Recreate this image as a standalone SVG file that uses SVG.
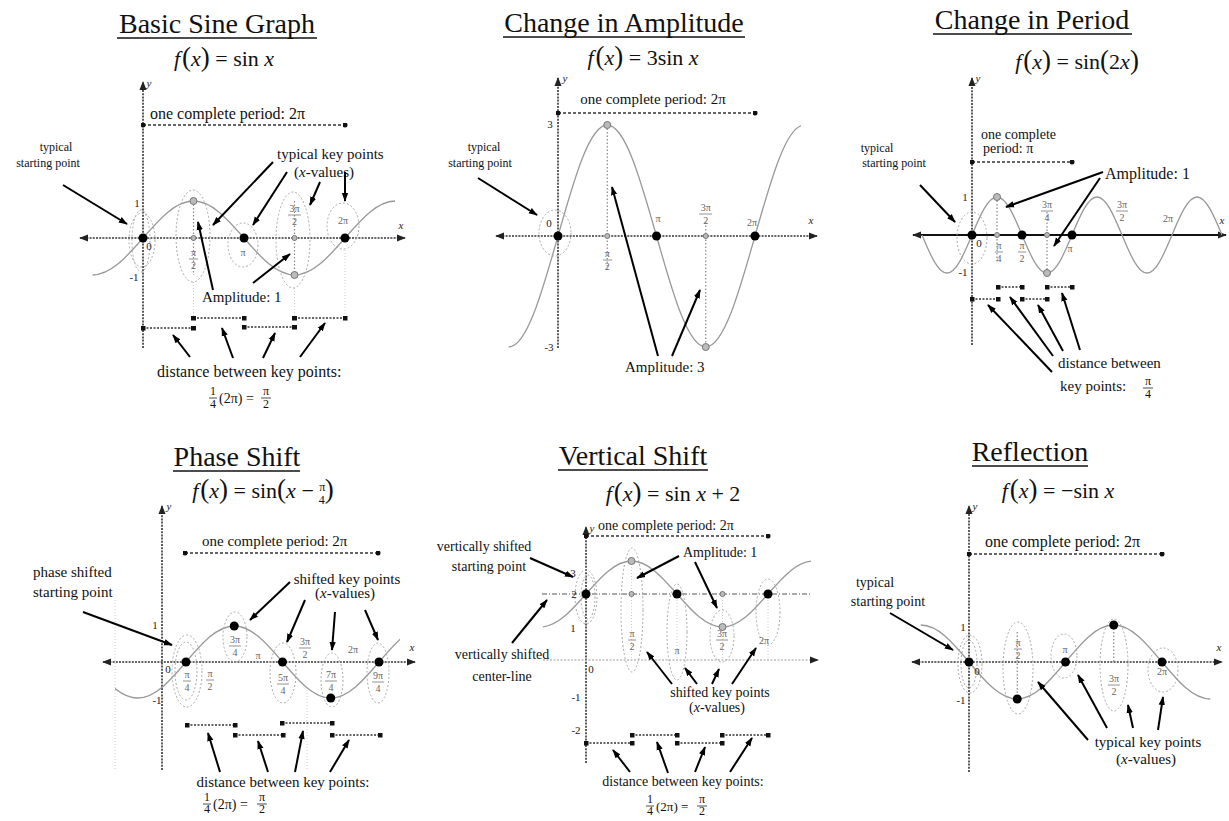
<svg xmlns="http://www.w3.org/2000/svg" width="1229" height="821" viewBox="0 0 1229 821">
<style>
text{font-family:"Liberation Serif","Times New Roman",serif;fill:#111}
.ttl{font-size:28px;text-anchor:middle}
.fm{font-size:22px;text-anchor:middle}
.l16{font-size:16px}.l15{font-size:15px}.l14{font-size:14px}.l13{font-size:13px}.l12{font-size:12px}
.c{text-anchor:middle}
.i{font-style:italic}
.bp{font-size:27px}
.k{font-size:10px;fill:#666;text-anchor:middle}
.n{font-size:11px;text-anchor:middle;fill:#222}
.ul{stroke:#111;stroke-width:1.5}
.ax{stroke:#333;stroke-width:1.6;stroke-dasharray:2 1.2;fill:none}
.axl{stroke:#999;stroke-width:1.2;stroke-dasharray:2 1.5;fill:none}
.axs{stroke:#111;stroke-width:2;fill:none}
.cl{stroke:#555;stroke-width:1.2;stroke-dasharray:5 2 1 2;fill:none}
.cv{stroke:#999;stroke-width:1.3;fill:none}
.el{stroke:#aaa;stroke-width:1;stroke-dasharray:2 2;fill:none}
.ar{stroke:#000;stroke-width:2;fill:none;marker-end:url(#ah)}
.pd{stroke:#333;stroke-width:1.5;stroke-dasharray:3 2;fill:none;marker-start:url(#dt);marker-end:url(#dt)}
.ds{stroke:#333;stroke-width:1.4;stroke-dasharray:2 1.5;fill:none;marker-start:url(#sq);marker-end:url(#sq)}
.vd{stroke:#888;stroke-width:1.2;stroke-dasharray:1.5 2}
.fv{stroke:#ccc;stroke-width:1;stroke-dasharray:1 2}
.fl{stroke:#777;stroke-width:0.8}
.flb{stroke:#222;stroke-width:0.8}
.kd{fill:#000}
.gd{fill:#bbb;stroke:#777;stroke-width:1}
</style>
<defs>
<marker id="ah" viewBox="0 0 10 10" refX="9" refY="5" markerWidth="9" markerHeight="9" markerUnits="userSpaceOnUse" orient="auto"><path d="M0,1.5L10,5L0,8.5z" fill="#000"/></marker>
<marker id="ax" viewBox="0 0 10 10" refX="9" refY="5" markerWidth="9" markerHeight="9" markerUnits="userSpaceOnUse" orient="auto-start-reverse"><path d="M0,1L10,5L0,9z" fill="#222"/></marker>
<marker id="sq" viewBox="0 0 6 6" refX="3" refY="3" markerWidth="5" markerHeight="5" markerUnits="userSpaceOnUse"><rect width="6" height="6" fill="#111"/></marker>
<marker id="dt" viewBox="0 0 6 6" refX="3" refY="3" markerWidth="5" markerHeight="5" markerUnits="userSpaceOnUse"><circle cx="3" cy="3" r="3" fill="#111"/></marker>
<clipPath id="c1"><rect x="90" y="150" width="305" height="150"/></clipPath>
<clipPath id="c2"><rect x="508" y="100" width="293" height="260"/></clipPath>
<clipPath id="c3"><rect x="920" y="180" width="302" height="110"/></clipPath>
<clipPath id="c4"><rect x="115" y="600" width="285" height="110"/></clipPath>
<clipPath id="c5"><rect x="543" y="540" width="268" height="100"/></clipPath>
<clipPath id="c6"><rect x="918" y="600" width="294" height="110"/></clipPath>
</defs>
<rect width="1229" height="821" fill="#fff"/>

<!-- Panel 1: Basic Sine Graph -->
<g id="p1">
<text class="ttl" x="217" y="33">Basic Sine Graph</text>
<line class="ul" x1="117" y1="38" x2="317" y2="38"/>
<text class="fm" x="224" y="66"><tspan class="i">f</tspan><tspan class="bp" dx="2">(</tspan><tspan class="i">x</tspan><tspan class="bp">)</tspan> = sin <tspan class="i">x</tspan></text>
<path class="ax" d="M143,348V82" marker-end="url(#ax)"/>
<path class="ax" d="M80,238H405" marker-start="url(#ax)" marker-end="url(#ax)"/>
<text class="n i" x="149" y="87">y</text>
<text class="n i" x="401" y="229">x</text>
<text class="l16" x="150" y="119">one complete period: 2π</text>
<path class="pd" d="M143,125H345"/>
<line class="vd" x1="193.5" y1="201" x2="193.5" y2="275"/>
<line class="vd" x1="294.5" y1="201" x2="294.5" y2="275"/>
<line class="fv" x1="193.5" y1="282" x2="193.5" y2="318"/>
<line class="fv" x1="294.5" y1="288" x2="294.5" y2="318"/>
<line class="fv" x1="345" y1="250" x2="345" y2="318"/>
<path class="cv" clip-path="url(#c1)" d="M92.5,275c18.28,0 34.03,-18.04 50.5,-37c16.47,-18.96 32.22,-37 50.5,-37c18.28,0 34.03,18.04 50.5,37c16.47,18.96 32.22,37 50.5,37c18.28,0 34.03,-18.04 50.5,-37c16.47,-18.96 32.22,-37 50.5,-37"/>
<ellipse class="el" cx="141" cy="241" rx="9" ry="31"/>
<ellipse class="el" cx="142" cy="240" rx="13" ry="27"/>
<ellipse class="el" cx="193" cy="236" rx="17" ry="46"/>
<ellipse class="el" cx="243" cy="245" rx="15" ry="22"/>
<ellipse class="el" cx="293" cy="240" rx="17" ry="48"/>
<ellipse class="el" cx="343" cy="226" rx="16" ry="23"/>
<circle class="kd" cx="143" cy="238" r="4.5"/>
<circle class="kd" cx="244" cy="238" r="4.5"/>
<circle class="kd" cx="345" cy="238" r="4.5"/>
<circle class="gd" cx="193.5" cy="201" r="3.5"/>
<circle class="gd" cx="294.5" cy="275" r="3.5"/>
<circle class="gd" cx="193.5" cy="238" r="2.5"/>
<circle class="gd" cx="294.5" cy="238" r="2.5"/>
<text class="n" x="137" y="207">1</text>
<text class="n" x="149" y="250">0</text>
<text class="n" x="134" y="281">-1</text>
<text class="k" x="193.5" y="256">π</text><line class="fl" x1="189" y1="259" x2="198" y2="259"/><text class="k" x="193.5" y="269">2</text>
<text class="k" x="243" y="256">π</text>
<text class="k" x="294.5" y="212">3π</text><line class="fl" x1="288" y1="215" x2="301" y2="215"/><text class="k" x="294.5" y="225">2</text>
<text class="k" x="343" y="224">2π</text>
<text class="l12 c" x="56" y="151">typical</text>
<text class="l12 c" x="48" y="167">starting point</text>
<text class="l15" x="277" y="159">typical key points</text>
<text class="l15" x="294" y="177">(<tspan class="i">x</tspan>-values)</text>
<text class="l15" x="202" y="302">Amplitude: 1</text>
<path class="ds" d="M143,328H193.5"/>
<path class="ds" d="M193.5,318H244"/>
<path class="ds" d="M244,327H294.5"/>
<path class="ds" d="M294.5,318H345"/>
<text class="l16" x="157" y="377">distance between key points:</text>
<text class="l12 c" x="213" y="395">1</text><line class="flb" x1="209" y1="398" x2="217" y2="398"/><text class="l12 c" x="213" y="408">4</text>
<text class="l14" x="219" y="403">(2π) =</text>
<text class="l12 c" x="266" y="395">π</text><line class="flb" x1="261" y1="398" x2="271" y2="398"/><text class="l12 c" x="266" y="408">2</text>
</g>
<g id="p1-connectors">
<path class="ar" d="M63,185L127,224"/>
<path class="ar" d="M273,162L213,225"/>
<path class="ar" d="M287,172L253,225"/>
<path class="ar" d="M320,182L310,205"/>
<path class="ar" d="M345,172L345,201"/>
<path class="ar" d="M213,290L198,222"/>
<path class="ar" d="M253,283L290,254"/>
<path class="ar" d="M190,357L173,335"/>
<path class="ar" d="M233,358L222,328"/>
<path class="ar" d="M263,358L275,333"/>
<path class="ar" d="M300,357L325,323"/>
</g>

<!-- Panel 2: Change in Amplitude -->
<g id="p2">
<text class="ttl" x="624" y="32">Change in Amplitude</text>
<line class="ul" x1="503" y1="37" x2="745" y2="37"/>
<text class="fm" x="643" y="65"><tspan class="i">f</tspan><tspan class="bp" dx="2">(</tspan><tspan class="i">x</tspan><tspan class="bp">)</tspan> = 3sin <tspan class="i">x</tspan></text>
<path class="ax" d="M558,348V78" marker-end="url(#ax)"/>
<path class="ax" d="M496,236H817" marker-start="url(#ax)" marker-end="url(#ax)"/>
<text class="n i" x="565" y="82">y</text>
<text class="n i" x="811" y="224">x</text>
<text class="l15 c" x="653" y="104">one complete period: 2π</text>
<path class="pd" d="M558,113H755"/>
<line class="vd" x1="607.25" y1="125" x2="607.25" y2="272"/>
<line class="vd" x1="705.75" y1="222" x2="705.75" y2="347"/>
<path class="cv" clip-path="url(#c2)" d="M508.75,347c17.82,0 33.19,-54.13 49.25,-111c16.06,-56.87 31.43,-111 49.25,-111c17.82,0 33.19,54.13 49.25,111c16.06,56.87 31.43,111 49.25,111c17.82,0 33.19,-54.13 49.25,-111c16.06,-56.87 31.43,-111 49.25,-111"/>
<ellipse class="el" cx="555" cy="233" rx="16" ry="23"/>
<circle class="kd" cx="558" cy="236" r="4.5"/>
<circle class="kd" cx="656.5" cy="236" r="4.5"/>
<circle class="kd" cx="755" cy="236" r="4.5"/>
<circle class="gd" cx="607.25" cy="125" r="3.5"/>
<circle class="gd" cx="705.75" cy="347" r="3.5"/>
<circle class="gd" cx="607.25" cy="236" r="2.5"/>
<circle class="gd" cx="705.75" cy="236" r="2.5"/>
<text class="n" x="550" y="128">3</text>
<text class="n" x="549" y="351">-3</text>
<text class="n" x="549" y="227">0</text>
<text class="k" x="607.25" y="257">π</text><line class="fl" x1="603" y1="260" x2="612" y2="260"/><text class="k" x="607.25" y="270">2</text>
<text class="k" x="658" y="222">π</text>
<text class="k" x="705.75" y="211">3π</text><line class="fl" x1="699" y1="214" x2="712" y2="214"/><text class="k" x="705.75" y="224">2</text>
<text class="k" x="752" y="226">2π</text>
<text class="l12 c" x="484" y="151">typical</text>
<text class="l12 c" x="480" y="167">starting point</text>
<text class="l15" x="625" y="372">Amplitude: 3</text>
</g>
<g id="p2-connectors">
<path class="ar" d="M478,178L537,215"/>
<path class="ar" d="M658,356L612,187"/>
<path class="ar" d="M672,356L700,290"/>
</g>

<!-- Panel 3: Change in Period -->
<g id="p3">
<text class="ttl" x="1032" y="29">Change in Period</text>
<line class="ul" x1="933" y1="34" x2="1132" y2="34"/>
<text class="fm" x="1077" y="69"><tspan class="i">f</tspan><tspan class="bp" dx="2">(</tspan><tspan class="i">x</tspan><tspan class="bp">)</tspan> = sin<tspan class="bp">(</tspan>2<tspan class="i">x</tspan><tspan class="bp">)</tspan></text>
<path class="ax" d="M972,345V78" marker-end="url(#ax)"/>
<path class="axs" d="M913,235H1226" marker-start="url(#ax)" marker-end="url(#ax)"/>
<text class="n i" x="978" y="82">y</text>
<text class="n i" x="1222" y="224">x</text>
<text class="l14" x="981" y="139">one complete</text>
<text class="l14" x="983" y="153">period:  π</text>
<path class="pd" d="M972,162H1072"/>
<line class="vd" x1="997" y1="197" x2="997" y2="262"/>
<line class="vd" x1="1047" y1="212" x2="1047" y2="273"/>
<path class="cv" clip-path="url(#c3)" d="M922,235c8.15,19.47 15.95,38 25,38c9.05,0 16.85,-18.53 25,-38c8.15,-19.47 15.95,-38 25,-38c9.05,0 16.85,18.53 25,38c8.15,19.47 15.95,38 25,38c9.05,0 16.85,-18.53 25,-38c8.15,-19.47 15.95,-38 25,-38c9.05,0 16.85,18.53 25,38c8.15,19.47 15.95,38 25,38c9.05,0 16.85,-18.53 25,-38c8.15,-19.47 15.95,-38 25,-38c9.05,0 16.85,18.53 25,38"/>
<ellipse class="el" cx="972" cy="238" rx="15" ry="26"/>
<circle class="kd" cx="972" cy="235" r="4.5"/>
<circle class="kd" cx="1022" cy="235" r="4.5"/>
<circle class="kd" cx="1072" cy="235" r="4.5"/>
<circle class="gd" cx="997" cy="197" r="3.5"/>
<circle class="gd" cx="1047" cy="273" r="3.5"/>
<circle class="gd" cx="997" cy="235" r="2.5"/>
<circle class="gd" cx="1047" cy="235" r="2.5"/>
<text class="n" x="965" y="201">1</text>
<text class="n" x="979" y="247">0</text>
<text class="n" x="963" y="276">-1</text>
<text class="k" x="999" y="249">π</text><line class="fl" x1="995" y1="252" x2="1003" y2="252"/><text class="k" x="999" y="262">4</text>
<text class="k" x="1022" y="249">π</text><line class="fl" x1="1018" y1="252" x2="1026" y2="252"/><text class="k" x="1022" y="262">2</text>
<text class="k" x="1047" y="208">3π</text><line class="fl" x1="1041" y1="211" x2="1053" y2="211"/><text class="k" x="1047" y="221">4</text>
<text class="k" x="1070" y="252">π</text>
<text class="k" x="1122" y="208">3π</text><line class="fl" x1="1116" y1="211" x2="1128" y2="211"/><text class="k" x="1122" y="221">2</text>
<text class="k" x="1168" y="222">2π</text>
<text class="l12 c" x="877" y="152">typical</text>
<text class="l12 c" x="894" y="167">starting point</text>
<text class="l16" x="1105" y="179">Amplitude: 1</text>
<path class="ds" d="M972,299H998"/>
<path class="ds" d="M998,287H1022"/>
<path class="ds" d="M1022,299H1047"/>
<path class="ds" d="M1047,287H1072"/>
<text class="l15" x="1058" y="368">distance between</text>
<text class="l15" x="1060" y="391">key points:</text>
<text class="l12 c" x="1148" y="385">π</text><line class="flb" x1="1143" y1="388" x2="1153" y2="388"/><text class="l12 c" x="1148" y="398">4</text>
</g>
<g id="p3-connectors">
<path class="ar" d="M920,185L955,222"/>
<path class="ar" d="M1103,172L1006,207"/>
<path class="ar" d="M1100,178L1054,246"/>
<path class="ar" d="M1052,372L988,305"/>
<path class="ar" d="M1053,356L1010,297"/>
<path class="ar" d="M1063,351L1038,305"/>
<path class="ar" d="M1080,350L1062,293"/>
</g>

<!-- Panel 4: Phase Shift -->
<g id="p4">
<text class="ttl" x="237" y="466">Phase Shift</text>
<line class="ul" x1="173" y1="471" x2="300" y2="471"/>
<text class="fm" x="263" y="498"><tspan class="i">f</tspan><tspan class="bp" dx="2">(</tspan><tspan class="i">x</tspan><tspan class="bp">)</tspan> = sin<tspan class="bp">(</tspan><tspan class="i">x</tspan> − <tspan font-size="12" dy="-7">π</tspan><tspan font-size="12" dx="-6.5" dy="13">4</tspan><tspan class="bp" dy="-6">)</tspan></text>
<line class="fv" x1="115" y1="600" x2="115" y2="770"/>
<line class="fv" x1="307" y1="690" x2="307" y2="770"/>
<path class="ax" d="M162,770V506" marker-end="url(#ax)"/>
<path class="ax" d="M103,662H415" marker-start="url(#ax)" marker-end="url(#ax)"/>
<text class="n i" x="169" y="510">y</text>
<text class="n i" x="412" y="651">x</text>
<text class="l15" x="202" y="546">one complete period: 2π</text>
<path class="pd" d="M185,553H378"/>
<path class="cv" clip-path="url(#c4)" d="M89.5,662c15.73,18.44 30.79,36 48.25,36c17.46,0 32.52,-17.56 48.25,-36c15.73,-18.44 30.79,-36 48.25,-36c17.46,0 32.52,17.56 48.25,36c15.73,18.44 30.79,36 48.25,36c17.46,0 32.52,-17.56 48.25,-36c15.73,-18.44 30.79,-36 48.25,-36"/>
<ellipse class="el" cx="187" cy="671" rx="15" ry="36"/>
<ellipse class="el" cx="186" cy="671" rx="11" ry="29"/>
<ellipse class="el" cx="235" cy="637" rx="12" ry="25"/>
<ellipse class="el" cx="283" cy="673" rx="13" ry="30"/>
<ellipse class="el" cx="332" cy="680" rx="11" ry="27"/>
<ellipse class="el" cx="378" cy="673" rx="11" ry="30"/>
<circle class="kd" cx="186" cy="662" r="4.5"/>
<circle class="kd" cx="234.25" cy="626" r="4.5"/>
<circle class="kd" cx="282.5" cy="662" r="4.5"/>
<circle class="kd" cx="330.75" cy="698" r="4.5"/>
<circle class="kd" cx="379" cy="662" r="4.5"/>
<text class="n" x="155" y="629">1</text>
<text class="n" x="168" y="673">0</text>
<text class="n" x="157" y="704">-1</text>
<text class="k" x="187" y="678">π</text><line class="fl" x1="183" y1="681" x2="191" y2="681"/><text class="k" x="187" y="691">4</text>
<text class="k" x="235" y="643">3π</text><line class="fl" x1="229" y1="646" x2="241" y2="646"/><text class="k" x="235" y="656">4</text>
<text class="k" x="283" y="681">5π</text><line class="fl" x1="277" y1="684" x2="289" y2="684"/><text class="k" x="283" y="694">4</text>
<text class="k" x="331" y="678">7π</text><line class="fl" x1="325" y1="681" x2="337" y2="681"/><text class="k" x="331" y="691">4</text>
<text class="k" x="378" y="679">9π</text><line class="fl" x1="372" y1="682" x2="384" y2="682"/><text class="k" x="378" y="692">4</text>
<text class="k" x="210" y="677">π</text><line class="fl" x1="206" y1="680" x2="214" y2="680"/><text class="k" x="210" y="690">2</text>
<text class="k" x="258" y="659">π</text>
<text class="k" x="305" y="645">3π</text><line class="fl" x1="299" y1="648" x2="311" y2="648"/><text class="k" x="305" y="658">2</text>
<text class="k" x="353" y="653">2π</text>
<text class="l15" x="33" y="577">phase shifted</text>
<text class="l15" x="33" y="597">starting point</text>
<text class="l15 c" x="347" y="584">shifted key points</text>
<text class="l15 c" x="345" y="598">(<tspan class="i">x</tspan>-values)</text>
<path class="ds" d="M187,725H235"/>
<path class="ds" d="M235,735H283"/>
<path class="ds" d="M282,723H332"/>
<path class="ds" d="M332,735H380"/>
<text class="l15 c" x="283" y="787">distance between key points:</text>
<text class="l12 c" x="207" y="801">1</text><line class="flb" x1="203" y1="804" x2="211" y2="804"/><text class="l12 c" x="207" y="813">4</text>
<text class="l14" x="213" y="809">(2π) =</text>
<text class="l12 c" x="262" y="801">π</text><line class="flb" x1="257" y1="804" x2="267" y2="804"/><text class="l12 c" x="262" y="813">2</text>
</g>
<g id="p4-connectors">
<path class="ar" d="M83,612L172,645"/>
<path class="ar" d="M290,582L250,620"/>
<path class="ar" d="M305,600L287,642"/>
<path class="ar" d="M335,612L332,650"/>
<path class="ar" d="M365,610L378,640"/>
<path class="ar" d="M220,772L208,733"/>
<path class="ar" d="M268,772L258,741"/>
<path class="ar" d="M295,772L303,731"/>
<path class="ar" d="M330,772L349,740"/>
</g>

<!-- Panel 5: Vertical Shift -->
<g id="p5">
<text class="ttl" x="633" y="465">Vertical Shift</text>
<line class="ul" x1="558" y1="470" x2="708" y2="470"/>
<text class="fm" x="673" y="501"><tspan class="i">f</tspan><tspan class="bp" dx="2">(</tspan><tspan class="i">x</tspan><tspan class="bp">)</tspan> = sin <tspan class="i">x</tspan> + 2</text>
<path class="ax" d="M586,763V527" marker-end="url(#ax)"/>
<path class="axl" d="M543,660H818" marker-end="url(#ax)"/>
<path class="cl" d="M542,594H812"/>
<text class="n i" x="592" y="532">y</text>
<text class="l14" x="598" y="530">one complete period: 2π</text>
<path class="pd" d="M586,536H768"/>
<line class="fv" x1="631.5" y1="561" x2="631.5" y2="660"/>
<line class="fv" x1="722.5" y1="600" x2="722.5" y2="660"/>
<line class="fv" x1="677" y1="600" x2="677" y2="660"/>
<line class="fv" x1="768" y1="600" x2="768" y2="660"/>
<path class="cv" clip-path="url(#c5)" d="M540.5,627c16.47,0 30.66,-16.09 45.5,-33c14.84,-16.91 29.03,-33 45.5,-33c16.47,0 30.66,16.09 45.5,33c14.84,16.91 29.03,33 45.5,33c16.47,0 30.66,-16.09 45.5,-33c14.84,-16.91 29.03,-33 45.5,-33"/>
<ellipse class="el" cx="586" cy="597" rx="11" ry="27"/>
<ellipse class="el" cx="588" cy="597" rx="7" ry="22"/>
<ellipse class="el" cx="632" cy="610" rx="11" ry="62"/>
<ellipse class="el" cx="677" cy="632" rx="10" ry="48"/>
<ellipse class="el" cx="722" cy="636" rx="12" ry="26"/>
<ellipse class="el" cx="768" cy="612" rx="12" ry="33"/>
<circle class="kd" cx="586" cy="594" r="4.5"/>
<circle class="kd" cx="677" cy="594" r="4.5"/>
<circle class="kd" cx="768" cy="594" r="4.5"/>
<circle class="gd" cx="631.5" cy="561" r="3.5"/>
<circle class="gd" cx="722.5" cy="627" r="3.5"/>
<circle class="gd" cx="631.5" cy="594" r="2.5"/>
<circle class="gd" cx="722.5" cy="594" r="2.5"/>
<text class="n" x="573" y="577">3</text>
<text class="n" x="574" y="598">2</text>
<text class="n" x="573" y="632">1</text>
<text class="n" x="591" y="673">0</text>
<text class="n" x="576" y="701">-1</text>
<text class="n" x="576" y="734">-2</text>
<text class="k" x="632" y="637">π</text><line class="fl" x1="628" y1="640" x2="636" y2="640"/><text class="k" x="632" y="650">2</text>
<text class="k" x="677" y="654">π</text>
<text class="k" x="722" y="637">3π</text><line class="fl" x1="716" y1="640" x2="728" y2="640"/><text class="k" x="722" y="650">2</text>
<text class="k" x="764" y="644">2π</text>
<text class="l14 c" x="484" y="551">vertically shifted</text>
<text class="l14 c" x="489" y="571">starting point</text>
<text class="l14" x="683" y="557">Amplitude: 1</text>
<text class="l14 c" x="502" y="659">vertically shifted</text>
<text class="l14 c" x="502" y="681">center-line</text>
<text class="l14 c" x="720" y="697">shifted key points</text>
<text class="l14 c" x="717" y="712">(<tspan class="i">x</tspan>-values)</text>
<path class="ds" d="M586,743H632"/>
<path class="ds" d="M632,735H677"/>
<path class="ds" d="M677,743H722"/>
<path class="ds" d="M722,735H768"/>
<text class="l14 c" x="683" y="786">distance between key points:</text>
<text class="l12 c" x="650" y="803">1</text><line class="flb" x1="646" y1="806" x2="654" y2="806"/><text class="l12 c" x="650" y="815">4</text>
<text class="l13" x="656" y="811">(2π) =</text>
<text class="l12 c" x="702" y="803">π</text><line class="flb" x1="697" y1="806" x2="707" y2="806"/><text class="l12 c" x="702" y="815">2</text>
</g>
<g id="p5-connectors">
<path class="ar" d="M530,558L573,577"/>
<path class="ar" d="M679,556L637,578"/>
<path class="ar" d="M695,562L717,608"/>
<path class="ar" d="M512,643L547,600"/>
<path class="ar" d="M672,684L647,652"/>
<path class="ar" d="M697,684L685,668"/>
<path class="ar" d="M712,684L719,669"/>
<path class="ar" d="M732,684L756,648"/>
<path class="ar" d="M630,772L613,750"/>
<path class="ar" d="M668,773L657,742"/>
<path class="ar" d="M695,772L705,747"/>
<path class="ar" d="M730,772L752,738"/>
</g>

<!-- Panel 6: Reflection -->
<g id="p6">
<text class="ttl" x="1030" y="461">Reflection</text>
<line class="ul" x1="972" y1="466" x2="1088" y2="466"/>
<text class="fm" x="1058" y="498"><tspan class="i">f</tspan><tspan class="bp" dx="2">(</tspan><tspan class="i">x</tspan><tspan class="bp">)</tspan> = −sin <tspan class="i">x</tspan></text>
<path class="ax" d="M969,772V506" marker-end="url(#ax)"/>
<path class="ax" d="M912,662H1222" marker-start="url(#ax)" marker-end="url(#ax)"/>
<text class="n i" x="975" y="510">y</text>
<text class="n i" x="1219" y="651">x</text>
<text class="l16" x="985" y="547">one complete period: 2π</text>
<path class="pd" d="M969,554H1162"/>
<line class="vd" x1="1017.25" y1="632" x2="1017.25" y2="699"/>
<line class="vd" x1="1113.75" y1="625" x2="1113.75" y2="662"/>
<path class="cv" clip-path="url(#c6)" d="M920.75,625c17.46,0 32.52,18.04 48.25,37c15.73,18.96 30.79,37 48.25,37c17.46,0 32.52,-18.04 48.25,-37c15.73,-18.96 30.79,-37 48.25,-37c17.46,0 32.52,18.04 48.25,37c15.73,18.96 30.79,37 48.25,37"/>
<ellipse class="el" cx="970" cy="664" rx="12" ry="29"/>
<ellipse class="el" cx="969" cy="664" rx="8" ry="24"/>
<ellipse class="el" cx="1018" cy="668" rx="15" ry="46"/>
<ellipse class="el" cx="1064" cy="656" rx="13" ry="22"/>
<ellipse class="el" cx="1114" cy="665" rx="14" ry="46"/>
<ellipse class="el" cx="1163" cy="670" rx="15" ry="22"/>
<circle class="kd" cx="969" cy="662" r="4.5"/>
<circle class="kd" cx="1017.25" cy="699" r="4.5"/>
<circle class="kd" cx="1065.5" cy="662" r="4.5"/>
<circle class="kd" cx="1113.75" cy="625" r="4.5"/>
<circle class="kd" cx="1162" cy="662" r="4.5"/>
<text class="n" x="963" y="631">1</text>
<text class="n" x="961" y="704">-1</text>
<text class="n" x="977" y="675">0</text>
<text class="k" x="1018" y="646">π</text><line class="fl" x1="1014" y1="649" x2="1022" y2="649"/><text class="k" x="1018" y="659">2</text>
<text class="k" x="1065" y="653">π</text>
<text class="k" x="1114" y="682">3π</text><line class="fl" x1="1108" y1="685" x2="1120" y2="685"/><text class="k" x="1114" y="695">2</text>
<text class="k" x="1162" y="675">2π</text>
<text class="l14 c" x="875" y="587">typical</text>
<text class="l14 c" x="888" y="606">starting point</text>
<text class="l15 c" x="1148" y="747">typical key points</text>
<text class="l15 c" x="1146" y="764">(<tspan class="i">x</tspan>-values)</text>
</g>
<g id="p6-connectors">
<path class="ar" d="M890,613L953,650"/>
<path class="ar" d="M1088,740L1038,682"/>
<path class="ar" d="M1107,728L1078,675"/>
<path class="ar" d="M1133,728L1128,705"/>
<path class="ar" d="M1158,730L1163,697"/>
</g>
</svg>
